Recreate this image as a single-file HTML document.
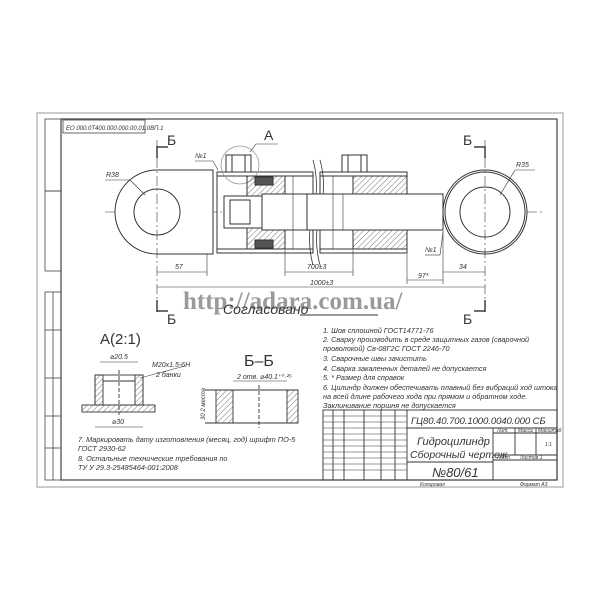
<!DOCTYPE html>
<html><head><meta charset="utf-8"><style>
html,body{margin:0;padding:0;background:#fff;}
svg{display:block}
text{font-family:"Liberation Sans","DejaVu Sans",sans-serif;fill:#333}
.it{font-style:italic}
</style></head><body>
<svg width="600" height="600" viewBox="0 0 600 600" xmlns="http://www.w3.org/2000/svg">
<defs>
<pattern id="h" width="4" height="4" patternUnits="userSpaceOnUse" patternTransform="rotate(45)">
<line x1="0" y1="0" x2="0" y2="4" stroke="#555" stroke-width="0.8"/></pattern>
</defs>
<rect x="37" y="113" width="526" height="374" fill="none" stroke="#aaa" stroke-width="1.2"/>
<rect x="61" y="119" width="496" height="361" fill="none" stroke="#444" stroke-width="1.2"/>
<g stroke="#444" stroke-width="0.8" fill="none">
<rect x="45" y="119" width="16" height="72"/><rect x="45" y="191" width="16" height="80"/>
<rect x="45" y="292" width="16" height="188"/>
<line x1="45" y1="330" x2="61" y2="330"/><line x1="45" y1="378" x2="61" y2="378"/><line x1="45" y1="416" x2="61" y2="416"/><line x1="45" y1="448" x2="61" y2="448"/>
<line x1="53" y1="292" x2="53" y2="480"/>
<rect x="63" y="120" width="82" height="13"/>
</g>
<text x="66" y="130" font-size="6" class="it">ЕО 000.0Т400.000.000.00.01.0ВП.1</text>

<g stroke="#333" stroke-width="1" fill="none">
<line x1="105" y1="212" x2="545" y2="212" stroke-dasharray="12,3,2,3" stroke-width="0.6"/>
<path d="M157 170 A42 42 0 0 0 157 254 L213 254 L213 170 Z" fill="#fff"/>
<circle cx="157" cy="212" r="23"/>
<line x1="157" y1="140" x2="157" y2="300" stroke-dasharray="10,3,2,3" stroke-width="0.6"/>
<rect x="217" y="172" width="96" height="81"/>
<rect x="320" y="172" width="87" height="81"/>
<line x1="217" y1="176" x2="313" y2="176"/><line x1="217" y1="249" x2="313" y2="249"/>
<line x1="320" y1="176" x2="407" y2="176"/><line x1="320" y1="249" x2="407" y2="249"/>
<path d="M313 160 Q320 185 313 212 Q306 240 313 265" stroke-width="0.8"/>
<path d="M320 160 Q327 185 320 212 Q313 240 320 265" stroke-width="0.8"/>
<rect x="226" y="155" width="25" height="17"/><rect x="232" y="155" width="13" height="17"/>
<rect x="342" y="155" width="25" height="17"/><rect x="348" y="155" width="13" height="17"/>
<circle cx="240" cy="165" r="19" stroke="#999" stroke-width="0.8"/>
<rect x="247" y="176" width="38" height="73" fill="url(#h)"/>
<rect x="255" y="177" width="18" height="8" fill="#555"/><rect x="255" y="240" width="18" height="8" fill="#555"/>
<rect x="224" y="196" width="38" height="32" fill="#fff"/>
<rect x="230" y="200" width="20" height="24" fill="#fff"/>
<rect x="353" y="176" width="54" height="73" fill="url(#h)"/>
<rect x="262" y="194" width="181" height="36" fill="#fff"/>
<line x1="307" y1="194" x2="307" y2="230"/>
<circle cx="485" cy="212" r="42" fill="#fff"/>
<circle cx="485" cy="212" r="40"/>
<circle cx="485" cy="212" r="25"/>
<line x1="485" y1="140" x2="485" y2="300" stroke-dasharray="10,3,2,3" stroke-width="0.6"/>
<g stroke-width="0.6">
<line x1="157" y1="272" x2="207" y2="272"/><line x1="207" y1="254" x2="207" y2="276"/>
<line x1="285" y1="272" x2="353" y2="272"/><line x1="285" y1="250" x2="285" y2="276"/><line x1="353" y1="250" x2="353" y2="276"/>
<line x1="407" y1="280" x2="443" y2="280"/><line x1="407" y1="254" x2="407" y2="284"/>
<line x1="443" y1="272" x2="485" y2="272"/><line x1="443" y1="231" x2="443" y2="284"/>
<line x1="157" y1="287" x2="485" y2="287"/>
<line x1="293" y1="176" x2="293" y2="249"/><line x1="333" y1="176" x2="333" y2="249"/><line x1="343" y1="194" x2="343" y2="230"/>
<line x1="130" y1="180" x2="145" y2="195"/><line x1="105" y1="180" x2="130" y2="180"/>
<line x1="500" y1="195" x2="515" y2="170"/><line x1="515" y1="170" x2="535" y2="170"/>
<line x1="195" y1="161" x2="213" y2="161"/><line x1="213" y1="161" x2="218" y2="170"/>
<line x1="256" y1="144" x2="278" y2="144"/><line x1="256" y1="144" x2="250" y2="152"/>
<line x1="425" y1="255" x2="440" y2="255"/><line x1="440" y1="255" x2="443" y2="232"/>
</g>
<g stroke-width="1.4">
<line x1="157" y1="146" x2="157" y2="158"/><line x1="157" y1="147" x2="168" y2="147"/>
<line x1="485" y1="146" x2="485" y2="158"/><line x1="474" y1="147" x2="485" y2="147"/>
<line x1="157" y1="300" x2="157" y2="312"/><line x1="157" y1="311" x2="168" y2="311"/>
<line x1="485" y1="300" x2="485" y2="312"/><line x1="474" y1="311" x2="485" y2="311"/>
</g>
</g>
<g font-size="7" class="it">
<text x="106" y="177">R38</text><text x="516" y="167">R35</text>
<text x="195" y="158">№1</text><text x="425" y="252">№1</text>
<text x="175" y="269">57</text><text x="307" y="269">700±3</text><text x="418" y="278">97*</text><text x="459" y="269">34</text>
<text x="310" y="285">1000±3</text>
</g>
<g font-size="14"><text x="167" y="145">Б</text><text x="463" y="145">Б</text><text x="167" y="324">Б</text><text x="463" y="324">Б</text><text x="264" y="140">А</text></g>
<text x="183" y="309" font-size="25" font-weight="bold" style="font-family:'Liberation Serif',serif;fill:#9a9a9a">http://adara.com.ua/</text>
<text x="223" y="314" font-size="14" class="it">Согласовано</text>
<line x1="300" y1="315" x2="378" y2="315" stroke="#333" stroke-width="1"/>

<text x="100" y="344" font-size="15">А(2:1)</text>
<g stroke="#333" stroke-width="0.9" fill="none">
<rect x="95" y="375" width="48" height="30"/>
<rect x="95" y="375" width="8" height="30" fill="url(#h)"/><rect x="135" y="375" width="8" height="30" fill="url(#h)"/>
<rect x="82" y="405" width="73" height="7" fill="url(#h)"/>
<line x1="103" y1="381" x2="135" y2="381"/>
<line x1="119" y1="370" x2="119" y2="415" stroke-dasharray="4,2"/>
<line x1="100" y1="362" x2="138" y2="362" stroke-width="0.6"/>
<line x1="95" y1="427" x2="143" y2="427" stroke-width="0.6"/>
<line x1="140" y1="378" x2="185" y2="366" stroke-width="0.6"/>
</g>
<g font-size="7" class="it"><text x="110" y="359">⌀20.5</text><text x="112" y="424">⌀30</text><text x="152" y="367">М20х1.5-6Н</text><text x="156" y="377">2 банки</text></g>

<text x="244" y="366" font-size="16">Б–Б</text>
<g stroke="#333" stroke-width="0.9" fill="none">
<line x1="205" y1="390" x2="298" y2="390"/><line x1="205" y1="423" x2="298" y2="423"/>
<rect x="216" y="390" width="17" height="33" fill="url(#h)"/>
<rect x="287" y="390" width="11" height="33" fill="url(#h)"/>
<line x1="259" y1="385" x2="259" y2="428" stroke-dasharray="4,2"/>
<line x1="233" y1="381" x2="287" y2="381" stroke-width="0.6"/>
</g>
<text x="237" y="379" font-size="7" class="it">2 отв. ⌀40.1⁺⁰·²⁵</text>
<text x="205" y="420" font-size="6" class="it" transform="rotate(-90 205 420)">30 2 места</text>

<g font-size="7.3" class="it">
<text x="323" y="333">1. Шов сплошной ГОСТ14771-76</text>
<text x="323" y="342">2. Сварку производить в среде защитных газов (сварочной</text>
<text x="323" y="351">проволокой) Св-08Г2С ГОСТ 2246-70</text>
<text x="323" y="361">3. Сварочные швы зачистить</text>
<text x="323" y="371">4. Сварка закаленных деталей не допускается</text>
<text x="323" y="380">5. * Размер для справок</text>
<text x="323" y="390">6. Цилиндр должен обеспечивать плавный без вибраций ход штока</text>
<text x="323" y="399">на всей длине рабочего хода при прямом и обратном ходе.</text>
<text x="323" y="408">Заклинивание поршня не допускается</text>
<text x="78" y="442">7. Маркировать дату изготовления (месяц, год) шрифт ПО-5</text>
<text x="78" y="451">ГОСТ 2930-62</text>
<text x="78" y="461">8. Остальные технические требования по</text>
<text x="78" y="470">ТУ У 29.3-25485464-001:2008</text>
</g>

<g stroke="#333" stroke-width="0.9" fill="none">
<rect x="323" y="410" width="234" height="70"/>
<line x1="407" y1="410" x2="407" y2="480"/>
<line x1="407" y1="428" x2="557" y2="428"/>
<line x1="493" y1="428" x2="493" y2="480"/>
<line x1="407" y1="462" x2="493" y2="462"/>
<line x1="493" y1="433" x2="557" y2="433"/><line x1="493" y1="455" x2="557" y2="455"/><line x1="493" y1="460" x2="557" y2="460"/>
<line x1="515" y1="428" x2="515" y2="455"/><line x1="536" y1="428" x2="536" y2="455"/>
<line x1="333" y1="410" x2="333" y2="480"/><line x1="344" y1="410" x2="344" y2="480"/>
<line x1="364" y1="410" x2="364" y2="480"/><line x1="381" y1="410" x2="381" y2="480"/>
<line x1="395" y1="410" x2="395" y2="480"/>
<g stroke-width="0.5">
<line x1="323" y1="416" x2="407" y2="416"/><line x1="323" y1="422" x2="407" y2="422"/>
<line x1="323" y1="428" x2="407" y2="428"/><line x1="323" y1="434" x2="407" y2="434"/>
<line x1="323" y1="440" x2="407" y2="440"/><line x1="323" y1="446" x2="407" y2="446"/>
<line x1="323" y1="452" x2="407" y2="452"/><line x1="323" y1="458" x2="407" y2="458"/>
<line x1="323" y1="464" x2="407" y2="464"/><line x1="323" y1="470" x2="407" y2="470"/>
</g>
</g>
<text x="411" y="424" font-size="9.6" class="it" letter-spacing="-0.1">ГЦ80.40.700.1000.0040.000 СБ</text>
<text x="417" y="445" font-size="11" class="it">Гидроцилиндр</text>
<text x="410" y="458" font-size="10.5" class="it">Сборочный чертеж</text>
<text x="432" y="477" font-size="13" class="it">№80/61</text>
<g font-size="5" class="it"><text x="497" y="432">Лит.</text><text x="518" y="432">Масса</text><text x="538" y="432">Масштаб</text><text x="545" y="446">1:1</text><text x="497" y="459">Лист</text><text x="520" y="459">Листов 1</text>
<text x="420" y="486">Копировал</text><text x="520" y="486">Формат А3</text></g>
</svg>
</body></html>
